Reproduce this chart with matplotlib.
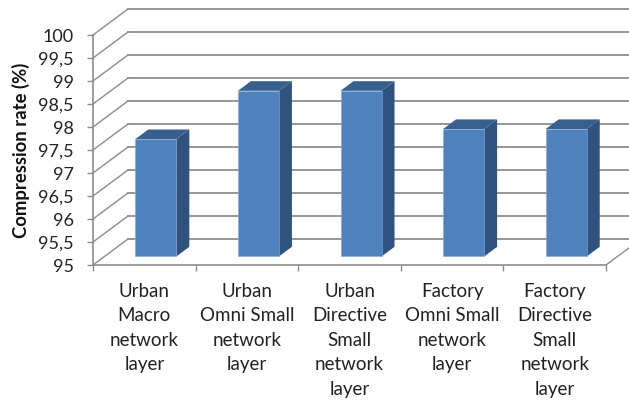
import matplotlib
matplotlib.use("Agg")
import matplotlib.pyplot as plt
import numpy as np

categories = [
    "Urban\nMacro\nnetwork\nlayer",
    "Urban\nOmni Small\nnetwork\nlayer",
    "Urban\nDirective\nSmall\nnetwork\nlayer",
    "Factory\nOmni Small\nnetwork\nlayer",
    "Factory\nDirective\nSmall\nnetwork\nlayer",
]
values = [97.55, 98.6, 98.6, 97.77, 97.77]
y_ticks = [95, 95.5, 96, 96.5, 97, 97.5, 98, 98.5, 99, 99.5, 100]
y_labels = ["95", "95,5", "96", "96,5", "97", "97,5", "98", "98,5", "99", "99,5", "100"]

W, H = 629, 400
plt.rcParams["font.family"] = ["Lato", "DejaVu Sans"]
fig = plt.figure(figsize=(W / 100, H / 100), dpi=100)
L, R, T, B = 93, 606, 35, 265
ax = fig.add_axes([L / W, 1 - B / H, (R - L) / W, (B - T) / H])
ax.set_xlim(0, 5)
ax.set_ylim(95, 100)

# oblique projection: one unit of depth, in data units
depth_x = 35 / ((R - L) / 5)
depth_y = 26 / ((B - T) / 5)
d_front, d_back = 0.33, 0.70
bar_w = 0.40
GRID = "#969696"
AXIS = "#8C8C8C"

for y in y_ticks:
    ax.plot([depth_x, 5 + depth_x], [y + depth_y, y + depth_y],
            color=GRID, lw=1.4, clip_on=False, zorder=1)
    ax.plot([0, depth_x], [y, y + depth_y], color=AXIS, lw=1.0, clip_on=False, zorder=1)
ax.plot([5, 5 + depth_x], [95, 95 + depth_y], color=AXIS, lw=1.0, clip_on=False, zorder=1)

ox0, oy0 = d_front * depth_x, d_front * depth_y
ox1, oy1 = d_back * depth_x, d_back * depth_y
centers = np.arange(len(values)) + 0.5
for c, v in zip(centers, values):
    xl, xr = c - bar_w / 2 + ox0, c + bar_w / 2 + ox0
    sx = ox1 - ox0
    ax.fill([xr, xr + sx, xr + sx, xr],
            [95 + oy0, 95 + oy1, v + oy1, v + oy0],
            color="#30527E", lw=0, zorder=3, clip_on=False)
    ax.fill([xl, xr, xr + sx, xl + sx],
            [v + oy0, v + oy0, v + oy1, v + oy1],
            color="#38608F", lw=0, zorder=3, clip_on=False)
ax.bar(centers + ox0, np.array(values) - 95, bottom=95 + oy0, width=bar_w,
       color="#4F81BD", edgecolor="#7FA6D6", linewidth=0.4, zorder=4)

for s in ("top", "right"):
    ax.spines[s].set_visible(False)
for s in ("left", "bottom"):
    ax.spines[s].set_color(AXIS)
    ax.spines[s].set_linewidth(1.2)

ax.set_yticks(y_ticks)
ax.set_yticklabels(y_labels, fontsize=13, color="#222222")
ax.tick_params(axis="y", length=4, width=1.0, color=AXIS, pad=10)
ax.set_xticks(np.arange(0, 6), minor=True)
ax.tick_params(axis="x", which="minor", length=4, width=1.0, color=AXIS)
ax.set_xticks(centers)
ax.set_xticklabels(categories, fontsize=13.5, color="#222222", linespacing=1.53)
ax.tick_params(axis="x", which="major", length=0, pad=13)

fig.text(21 / W, 1 - 150 / H, "Compression rate (%)", rotation=90, fontsize=13.3,
         fontweight="bold", ha="center", va="center", color="#111111")

fig.savefig("out.png", dpi=100)
